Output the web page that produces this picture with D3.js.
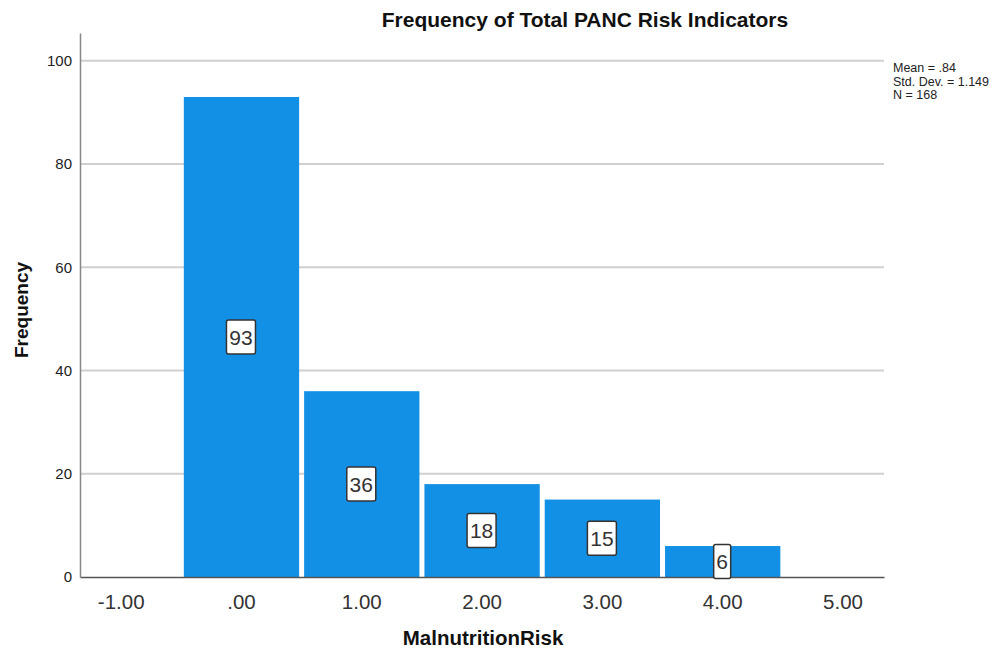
<!DOCTYPE html>
<html>
<head>
<meta charset="utf-8">
<script src="https://cdn.jsdelivr.net/npm/d3@7"></script>
<style>
  body { margin: 0; background: #fff; }
  text { font-family: "Liberation Sans", Arial, sans-serif; }
</style>
</head>
<body>
<svg id="chart" width="1005" height="654"></svg>
<script>
const categories = [0, 1, 2, 3, 4];
const frequencies = [93, 36, 18, 15, 6];
const xTicks = [-1, 0, 1, 2, 3, 4, 5];
const xTickLabels = ["-1.00", ".00", "1.00", "2.00", "3.00", "4.00", "5.00"];
const yTicks = [0, 20, 40, 60, 80, 100];
const statsLines = ["Mean = .84", "Std. Dev. = 1.149", "N = 168"];
const titleText = "Frequency of Total PANC Risk Indicators";
const xTitle = "MalnutritionRisk";
const yTitle = "Frequency";

(function () {
const svg = d3.select("#chart");
const mLeft = 80, mRight = 884, mTop = 33, mBottom = 577;

const x = d3.scaleLinear().domain([-1.338, 5.345]).range([mLeft, mRight]);
const y = d3.scaleLinear().domain([0, 105.4]).range([mBottom, mTop]);

// gridlines
svg.append("g").selectAll("line").data(yTicks.filter(d => d > 0)).join("line")
  .attr("x1", mLeft).attr("x2", mRight)
  .attr("y1", d => y(d)).attr("y2", d => y(d))
  .attr("stroke", "#d0d0d0").attr("stroke-width", 2);

// bars
const binW = x(1) - x(0);
svg.append("g").selectAll("rect").data(categories).join("rect")
  .attr("x", (d) => x(d) - binW / 2 + 3)
  .attr("width", binW - 5)
  .attr("y", (d, i) => y(frequencies[i]))
  .attr("height", (d, i) => mBottom - y(frequencies[i]))
  .attr("fill", "#1290e6");

// axes
const yAxis = d3.axisLeft(y).tickValues(yTicks).tickSize(0).tickPadding(8);
const gy = svg.append("g").attr("transform", `translate(${mLeft},0)`).call(yAxis);
gy.select(".domain").attr("stroke", "#888").attr("stroke-width", 1.5);
gy.selectAll("text").attr("font-size", 15).attr("fill", "#222")
  .attr("font-family", "Liberation Sans, Arial, sans-serif");

const xAxis = d3.axisBottom(x).tickValues(xTicks).tickSize(0).tickPadding(17)
  .tickFormat((d, i) => xTickLabels[i]);
const gx = svg.append("g").attr("transform", `translate(0,${mBottom})`).call(xAxis);
gx.select(".domain").attr("stroke", "#555").attr("stroke-width", 1.5);
gx.selectAll("text").attr("font-size", 20.5).attr("fill", "#333")
  .attr("font-family", "Liberation Sans, Arial, sans-serif");
gy.raise();

// value labels
const lab = svg.append("g").selectAll("g").data(categories).join("g")
  .attr("transform", (d, i) => `translate(${x(d)},${y(frequencies[i] / 2)})`);
lab.each(function(d, i) {
  const g = d3.select(this);
  const txt = String(frequencies[i]);
  const w = txt.length === 1 ? 17 : 29;
  g.append("rect").attr("x", -w / 2).attr("y", -17).attr("width", w).attr("height", 34)
    .attr("rx", 2).attr("fill", "#fff").attr("stroke", "#333").attr("stroke-width", 1.5);
  g.append("text").attr("text-anchor", "middle").attr("dy", "0.36em")
    .attr("font-size", 21).attr("fill", "#333").text(txt);
});

// title
svg.append("text").attr("x", 585).attr("y", 27).attr("text-anchor", "middle")
  .attr("font-size", 21).attr("font-weight", "bold").attr("fill", "#111").text(titleText);

// axis titles
svg.append("text").attr("x", 483).attr("y", 645).attr("text-anchor", "middle")
  .attr("font-size", 20.5).attr("font-weight", "bold").attr("fill", "#111").text(xTitle);
svg.append("text").attr("transform", "translate(28,310) rotate(-90)").attr("text-anchor", "middle")
  .attr("font-size", 19).attr("font-weight", "bold").attr("fill", "#111").text(yTitle);

// stats
svg.append("g").selectAll("text").data(statsLines).join("text")
  .attr("x", 893).attr("y", (d, i) => 72 + i * 13.5)
  .attr("font-size", 12.5).attr("fill", "#222").text(d => d);
})();
</script>
</body>
</html>
